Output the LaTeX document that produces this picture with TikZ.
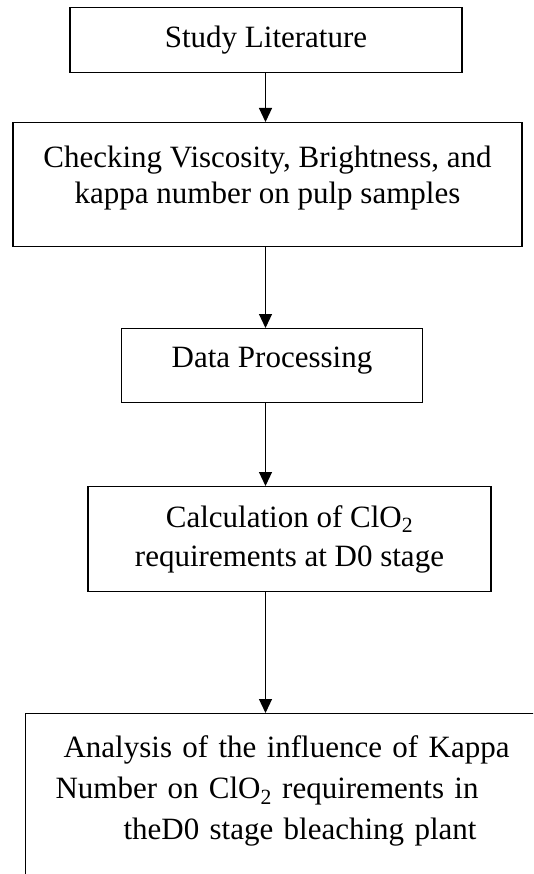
\documentclass[tikz,border=0pt]{standalone}
\usepackage{fontspec}
\setmainfont{Liberation Serif}
\usetikzlibrary{arrows.meta}

\begin{document}
\begin{tikzpicture}[x=1pt,y=-1pt]

\def\axis{265.5}

\tikzset{
    every node/.style={font=\fontsize{31}{36}\selectfont},
    box/.style={draw, line width=1.2pt, inner sep=0pt, anchor=north, align=center},
    flow/.style={-{Triangle[width=13pt,length=14pt]}, line width=1.2pt, draw}
}

\useasboundingbox (0,0) rectangle (533,874);
\clip (0,0) rectangle (533,874);

\coordinate (spine) at (\axis,0);

\node[box, minimum width=392pt, text height=40pt, text depth=25pt] (STUDY) at (266,7) {Study Literature};
\node[box, minimum width=509pt, text height=81pt, text depth=43pt] (CHECK) at (267.5,122)
    {Checking Viscosity, Brightness, and\\kappa number on pulp samples};
\node[box, minimum width=301pt, text height=39pt, text depth=35pt] (DATA) at (272,328) {Data Processing};
\node[box, minimum width=403pt, text height=80pt, text depth=25pt, font=\fontsize{31}{39.5}\selectfont] (CALC) at (289.5,486)
    {Calculation of ClO\textsubscript{2}\\requirements at D0 stage};
\node[box, anchor=north west, align=left, text width=500pt, inner xsep=30pt, text height=44pt, text depth=200pt,
    font=\fontsize{31}{41}\selectfont] (ANALYSIS) at (25,713)
    {\hspace*{8pt}Analysis of the influence of Kappa\\Number on ClO\textsubscript{2} requirements in\\\hspace*{68pt}theD0 stage bleaching plant};

\draw[flow] (STUDY.south -| spine) -- (CHECK.north -| spine);
\draw[flow] (CHECK.south -| spine) -- (DATA.north -| spine);
\draw[flow] (DATA.south -| spine) -- (CALC.north -| spine);
\draw[flow] (CALC.south -| spine) -- (ANALYSIS.north -| spine);
\end{tikzpicture}
\end{document}
